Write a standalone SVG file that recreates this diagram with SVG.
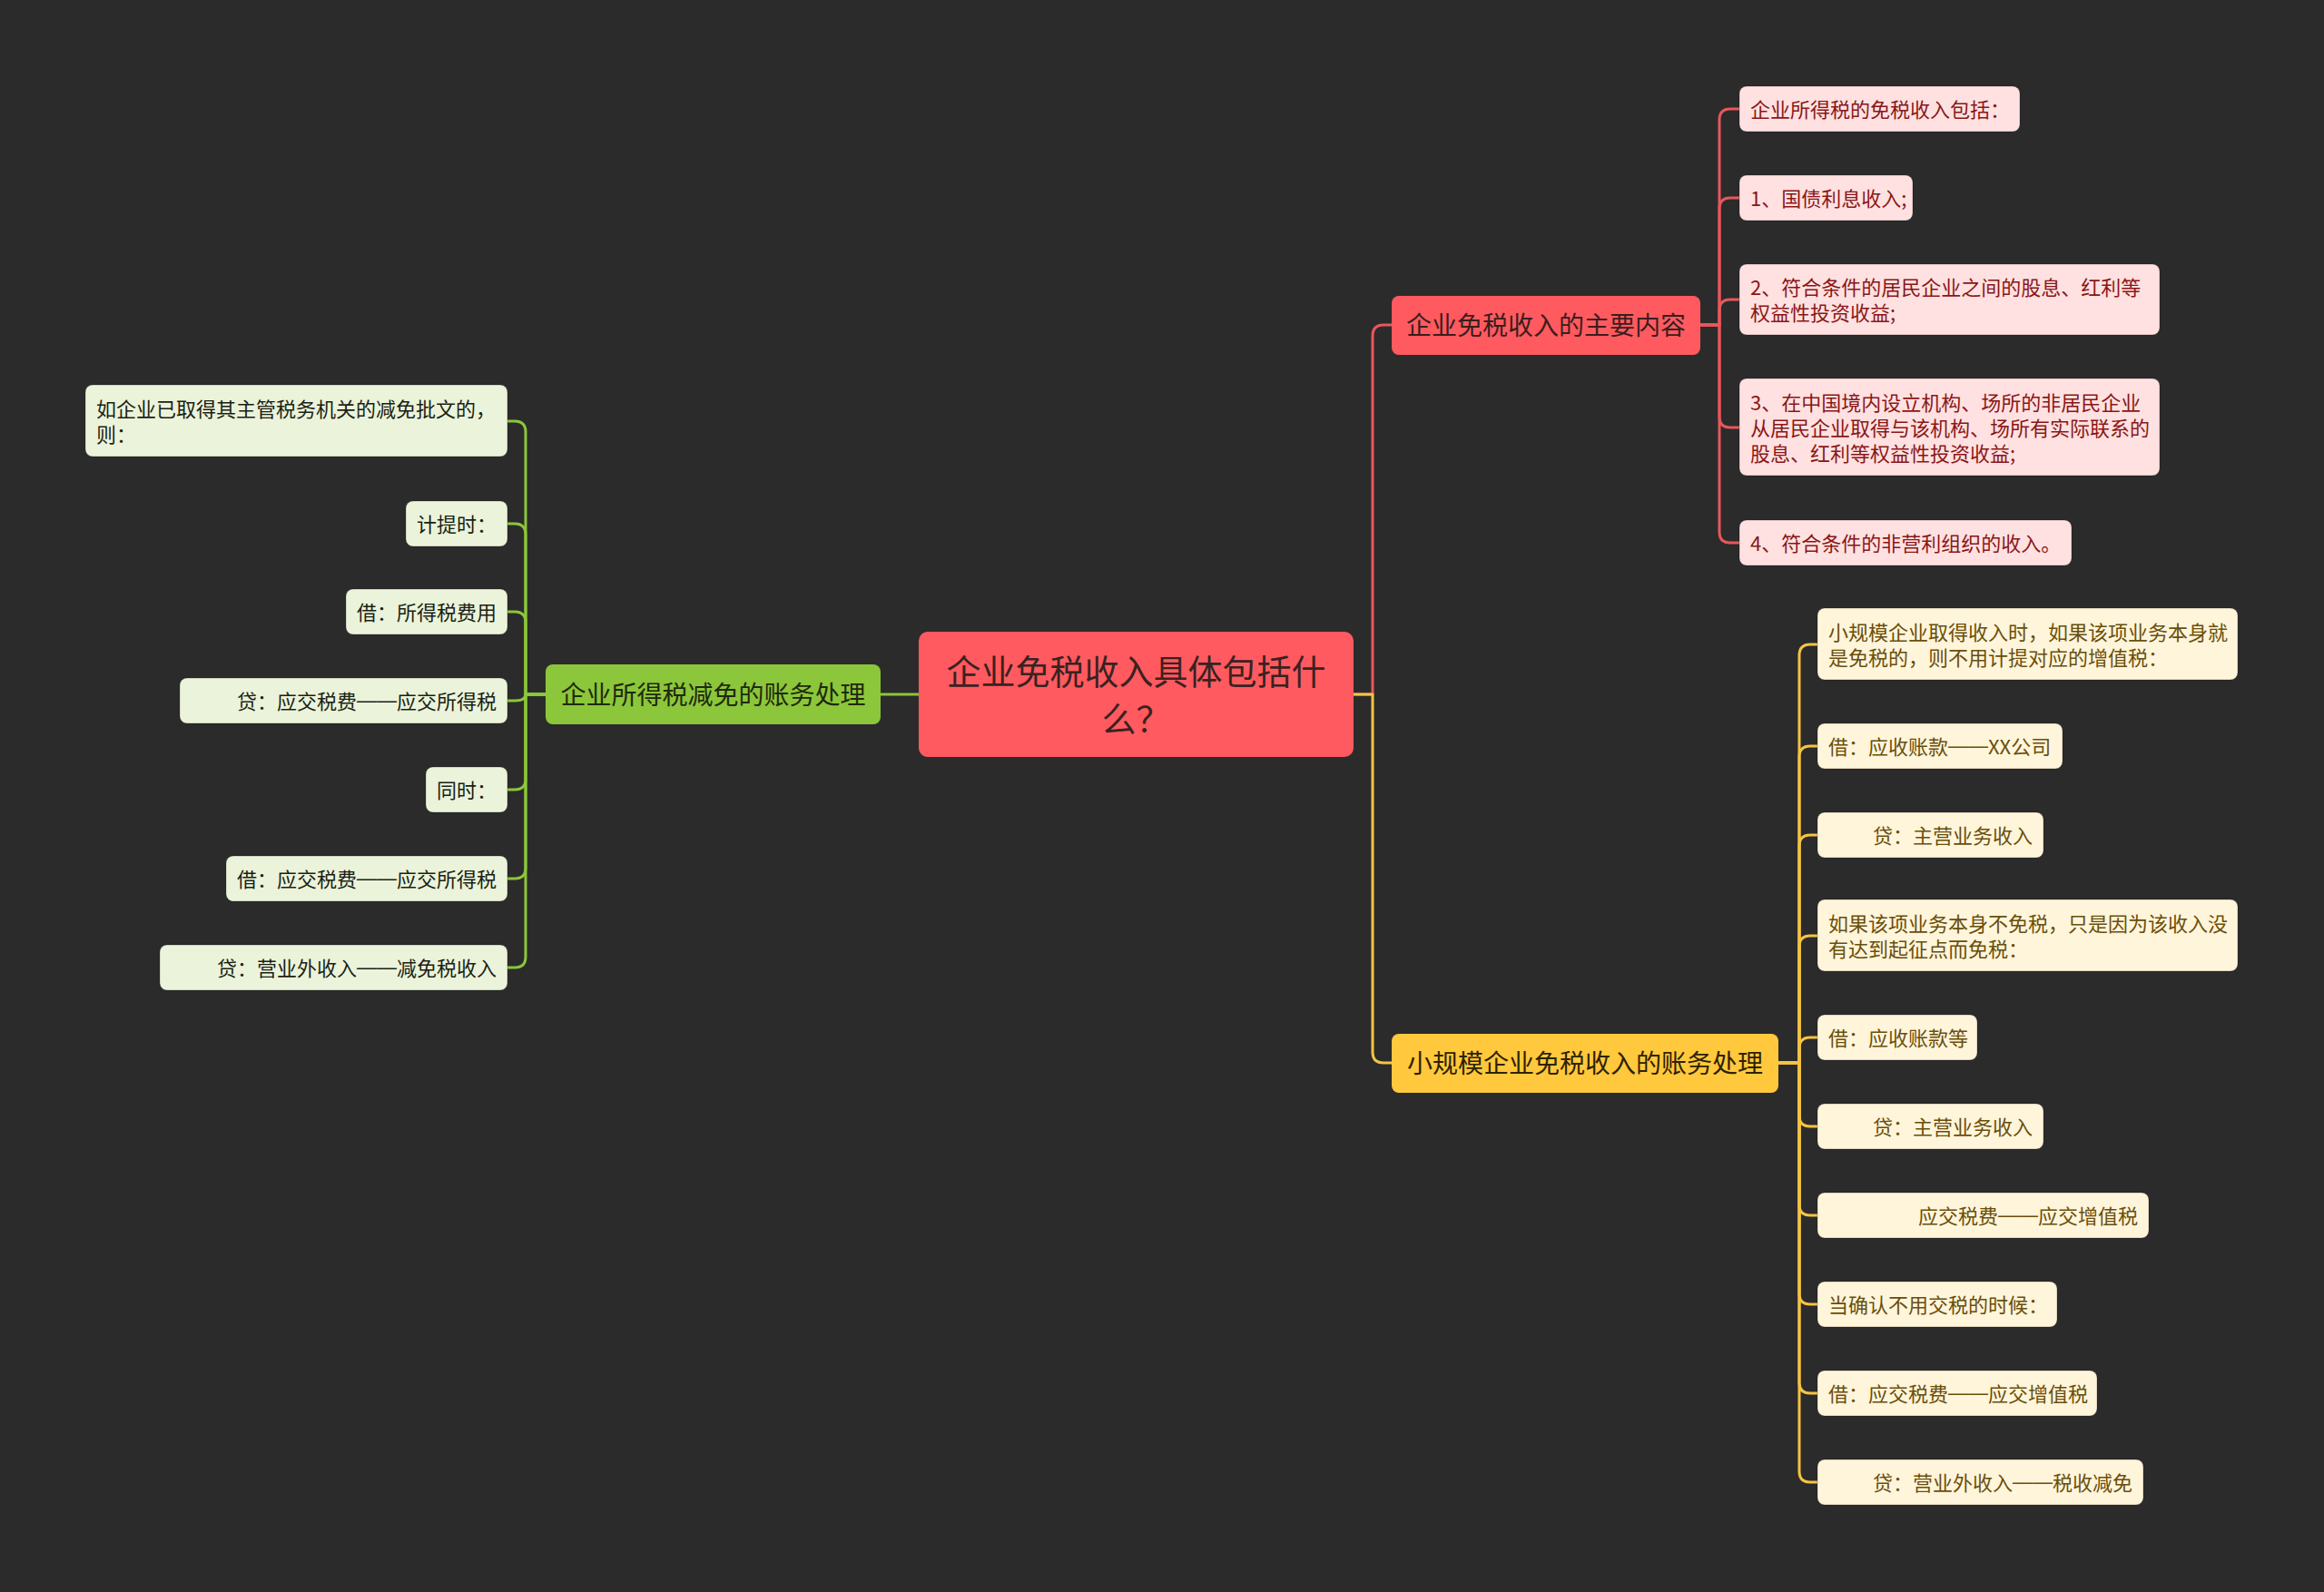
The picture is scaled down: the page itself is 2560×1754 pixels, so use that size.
<svg xmlns="http://www.w3.org/2000/svg" width="2560" height="1754" viewBox="0 0 2560 1754">
<style>
text{font-family:"Noto Sans CJK SC","Noto Sans",sans-serif;dominant-baseline:central;transform:translateY(-1.5px)}
.d{font-family:"Liberation Sans",sans-serif}
.c{fill:none;stroke-width:3;stroke-linejoin:round;stroke-linecap:round}
.cr{stroke:#e8575c}.cg{stroke:#8cc63a}.cy{stroke:#f5c443}
.root rect{fill:#ff5a5f}
.root text{fill:#3a2222;font-size:38px;text-anchor:middle}
.l1 text{font-size:28px;text-anchor:middle}
.r1 rect{fill:#ff5a5f}.r1 text{fill:#3b1d1d}
.g1 rect{fill:#8cc63a}.g1 text{fill:#1e2a0c}
.y1 rect{fill:#ffc83d}.y1 text{fill:#2e2200}
.l2 text{font-size:22px}
.l2 rect{stroke:#000;stroke-opacity:.25;stroke-width:1}
.r2 rect{fill:#ffe1e1}.r2 text{fill:#8a1616}
.g2 rect{fill:#ebf3da}.g2 text{fill:#1a1f14;text-anchor:end}
.g2 text.s{text-anchor:start}
.y2 rect{fill:#fff5db}.y2 text{fill:#6a4e0a}
.y2 text.e{text-anchor:end}
</style>
<rect width="2560" height="1754" fill="#2b2b2b"/>
<g id="connectors">
<path class="c cr" d="M1491,765 H1512 V370 Q1512,358 1524,358 H1533"/>
<path class="c cy" d="M1491,765 H1512 V1159 Q1512,1171 1524,1171 H1533"/>
<path class="c cg" d="M1012,765 H970"/>
<path class="c cr" d="M1873,358 H1894 V132 Q1894,120 1906,120 H1916"/>
<path class="c cr" d="M1873,358 H1894 V230 Q1894,218 1906,218 H1916"/>
<path class="c cr" d="M1873,358 H1894 V342 Q1894,330 1906,330 H1916"/>
<path class="c cr" d="M1873,358 H1894 V459 Q1894,471 1906,471 H1916"/>
<path class="c cr" d="M1873,358 H1894 V586 Q1894,598 1906,598 H1916"/>
<path class="c cy" d="M1959,1171 H1982 V722 Q1982,710 1994,710 H2002"/>
<path class="c cy" d="M1959,1171 H1982 V834 Q1982,822 1994,822 H2002"/>
<path class="c cy" d="M1959,1171 H1982 V932 Q1982,920 1994,920 H2002"/>
<path class="c cy" d="M1959,1171 H1982 V1043 Q1982,1031 1994,1031 H2002"/>
<path class="c cy" d="M1959,1171 H1982 V1155 Q1982,1143 1994,1143 H2002"/>
<path class="c cy" d="M1959,1171 H1982 V1229 Q1982,1241 1994,1241 H2002"/>
<path class="c cy" d="M1959,1171 H1982 V1327 Q1982,1339 1994,1339 H2002"/>
<path class="c cy" d="M1959,1171 H1982 V1425 Q1982,1437 1994,1437 H2002"/>
<path class="c cy" d="M1959,1171 H1982 V1523 Q1982,1535 1994,1535 H2002"/>
<path class="c cy" d="M1959,1171 H1982 V1621 Q1982,1633 1994,1633 H2002"/>
<path class="c cg" d="M601,765 H579 V476 Q579,464 567,464 H559"/>
<path class="c cg" d="M601,765 H579 V589 Q579,577 567,577 H559"/>
<path class="c cg" d="M601,765 H579 V686 Q579,674 567,674 H559"/>
<path class="c cg" d="M601,765 H579 Q579,772 567,772 H559"/>
<path class="c cg" d="M601,765 H579 V858 Q579,870 567,870 H559"/>
<path class="c cg" d="M601,765 H579 V956 Q579,968 567,968 H559"/>
<path class="c cg" d="M601,765 H579 V1054 Q579,1066 567,1066 H559"/>
</g>
<g id="root" class="root">
<rect x="1012" y="696" width="479" height="138" rx="10"/>
<text x="1251.5" y="739">企业免税收入具体包括什</text>
<text x="1251.5" y="791">么？</text>
</g>
<g id="n-main" class="l1 r1"><rect x="1533" y="326" width="340" height="65" rx="8"/><text x="1703" y="358.5">企业免税收入的主要内容</text></g>
<g id="n-small" class="l1 y1"><rect x="1533" y="1139" width="426" height="65" rx="8"/><text x="1746" y="1171.5">小规模企业免税收入的账务处理</text></g>
<g id="n-reduce" class="l1 g1"><rect x="601" y="732" width="369" height="66" rx="8"/><text x="785.5" y="765">企业所得税减免的账务处理</text></g>

<g id="r1" class="l2 r2"><rect x="1916" y="95" width="309" height="50" rx="8"/><text x="1928" y="120">企业所得税的免税收入包括：</text></g>
<g id="r2" class="l2 r2"><rect x="1916" y="193" width="191" height="50" rx="8"/><text x="1928" y="218">1、国债利息收入;</text></g>
<g id="r3" class="l2 r2"><rect x="1916" y="291" width="463" height="78" rx="8"/><text x="1928" y="316">2、符合条件的居民企业之间的股息、红利等</text><text x="1928" y="344">权益性投资收益;</text></g>
<g id="r4" class="l2 r2"><rect x="1916" y="417" width="463" height="107" rx="8"/><text x="1928" y="443">3、在中国境内设立机构、场所的非居民企业</text><text x="1928" y="471">从居民企业取得与该机构、场所有实际联系的</text><text x="1928" y="499">股息、红利等权益性投资收益;</text></g>
<g id="r5" class="l2 r2"><rect x="1916" y="573" width="366" height="50" rx="8"/><text x="1928" y="598">4、符合条件的非营利组织的收入。</text></g>

<g id="y1" class="l2 y2"><rect x="2002" y="670" width="463" height="79" rx="8"/><text x="2014" y="696">小规模企业取得收入时，如果该项业务本身就</text><text x="2014" y="724">是免税的，则不用计提对应的增值税：</text></g>
<g id="y2" class="l2 y2"><rect x="2002" y="797" width="270" height="50" rx="8"/><text x="2014" y="822">借：应收账款<tspan class="d">——</tspan>XX公司</text></g>
<g id="y3" class="l2 y2"><rect x="2002" y="895" width="249" height="50" rx="8"/><text class="e" x="2239" y="920">贷：主营业务收入</text></g>
<g id="y4" class="l2 y2"><rect x="2002" y="991" width="463" height="79" rx="8"/><text x="2014" y="1017">如果该项业务本身不免税，只是因为该收入没</text><text x="2014" y="1045">有达到起征点而免税：</text></g>
<g id="y5" class="l2 y2"><rect x="2002" y="1118" width="176" height="50" rx="8"/><text x="2014" y="1143">借：应收账款等</text></g>
<g id="y6" class="l2 y2"><rect x="2002" y="1216" width="249" height="50" rx="8"/><text class="e" x="2239" y="1241">贷：主营业务收入</text></g>
<g id="y7" class="l2 y2"><rect x="2002" y="1314" width="365" height="50" rx="8"/><text class="e" x="2355" y="1339">应交税费<tspan class="d">——</tspan>应交增值税</text></g>
<g id="y8" class="l2 y2"><rect x="2002" y="1412" width="264" height="50" rx="8"/><text x="2014" y="1437">当确认不用交税的时候：</text></g>
<g id="y9" class="l2 y2"><rect x="2002" y="1510" width="308" height="50" rx="8"/><text x="2014" y="1535">借：应交税费<tspan class="d">——</tspan>应交增值税</text></g>
<g id="y10" class="l2 y2"><rect x="2002" y="1608" width="359" height="50" rx="8"/><text class="e" x="2349" y="1633">贷：营业外收入<tspan class="d">——</tspan>税收减免</text></g>

<g id="g1" class="l2 g2"><rect x="94" y="424" width="465" height="79" rx="8"/><text class="s" x="106" y="450">如企业已取得其主管税务机关的减免批文的，</text><text class="s" x="106" y="478">则：</text></g>
<g id="g2" class="l2 g2"><rect x="447" y="552" width="112" height="50" rx="8"/><text x="547" y="577">计提时：</text></g>
<g id="g3" class="l2 g2"><rect x="381" y="649" width="178" height="50" rx="8"/><text x="547" y="674">借：所得税费用</text></g>
<g id="g4" class="l2 g2"><rect x="198" y="747" width="361" height="50" rx="8"/><text x="547" y="772">贷：应交税费<tspan class="d">——</tspan>应交所得税</text></g>
<g id="g5" class="l2 g2"><rect x="469" y="845" width="90" height="50" rx="8"/><text x="547" y="870">同时：</text></g>
<g id="g6" class="l2 g2"><rect x="249" y="943" width="310" height="50" rx="8"/><text x="547" y="968">借：应交税费<tspan class="d">——</tspan>应交所得税</text></g>
<g id="g7" class="l2 g2"><rect x="176" y="1041" width="383" height="50" rx="8"/><text x="547" y="1066">贷：营业外收入<tspan class="d">——</tspan>减免税收入</text></g>
</svg>
